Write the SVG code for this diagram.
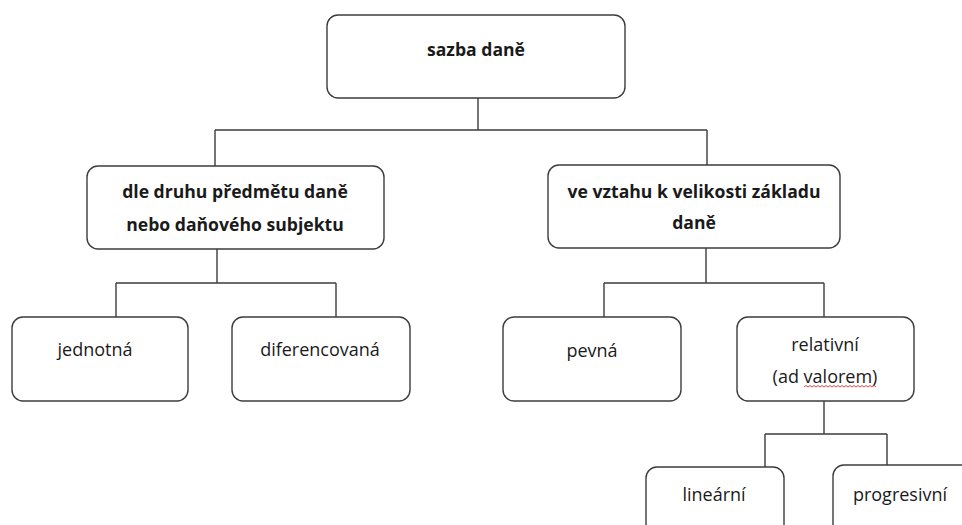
<svg xmlns="http://www.w3.org/2000/svg" width="962" height="525" viewBox="0 0 962 525">
<style>
.box{fill:#fff;stroke:#3c3c3c;stroke-width:1.4}
.ln{fill:none;stroke:#3c3c3c;stroke-width:1.4}
.t{font-family:"Open Sans","Liberation Sans",sans-serif;font-size:18px;fill:#1a1a1a;text-anchor:middle}
.b{font-weight:bold;font-size:17.6px}
</style>
<rect width="962" height="525" fill="#fff"/>
<g id="connectors">
<path class="ln" d="M478 98V130M215 130H707M215 130V166M707 130V165"/>
<path class="ln" d="M217 249V283M116 283H336M116 283V317M336 283V317"/>
<path class="ln" d="M706 248V283M604 283H824M604 283V317M824 283V317"/>
<path class="ln" d="M824 401V434M765 434H887M765 434V467M887 434V465"/>
</g>
<g id="n_sazba">
<rect class="box" x="327" y="15" width="298" height="83" rx="11"/>
<text class="t b" x="476" y="56">sazba daně</text>
</g>
<g id="n_druh">
<rect class="box" x="87" y="166" width="297" height="83" rx="11"/>
<text class="t b" x="235" y="198">dle druhu předmětu daně</text>
<text class="t b" x="235" y="231">nebo daňového subjektu</text>
</g>
<g id="n_vztah">
<rect class="box" x="548" y="165" width="292" height="83" rx="11"/>
<text class="t b" x="694" y="198">ve vztahu k velikosti základu</text>
<text class="t b" x="694" y="229">daně</text>
</g>
<g id="n_jednotna">
<rect class="box" x="12" y="317" width="176" height="84" rx="11"/>
<text class="t" x="95" y="356">jednotná</text>
</g>
<g id="n_diferencovana">
<rect class="box" x="232" y="317" width="178" height="84" rx="11"/>
<text class="t" x="320" y="356">diferencovaná</text>
</g>
<g id="n_pevna">
<rect class="box" x="503" y="317" width="178" height="84" rx="11"/>
<text class="t" x="592" y="357">pevná</text>
</g>
<g id="n_relativni">
<rect class="box" x="737" y="317" width="177" height="84" rx="11"/>
<text class="t" x="825" y="351">relativní</text>
<text class="t" x="825" y="383">(ad valorem)</text>
<path d="M804 387 l2 -1.5 l2 1.5 l2 -1.5 l2 1.5 l2 -1.5 l2 1.5 l2 -1.5 l2 1.5 l2 -1.5 l2 1.5 l2 -1.5 l2 1.5 l2 -1.5 l2 1.5 l2 -1.5 l2 1.5 l2 -1.5 l2 1.5 l2 -1.5 l2 1.5 l2 -1.5 l2 1.5 l2 -1.5 l2 1.5 l2 -1.5 l2 1.5 l2 -1.5 l2 1.5 l2 -1.5 l2 1.5 l2 -1.5 l2 1.5 l2 -1.5 l2 1.5 l2 -1.5 l2 1.5" fill="none" stroke="#e03030" stroke-width="0.9"/>
</g>
<g id="n_linearni">
<rect class="box" x="646" y="467" width="138" height="84" rx="11"/>
<text class="t" x="714" y="501">lineární</text>
</g>
<g id="n_progresivni">
<rect class="box" x="833" y="465" width="160" height="84" rx="11"/>
<text class="t" x="900" y="501">progresivní</text>
</g>
</svg>
